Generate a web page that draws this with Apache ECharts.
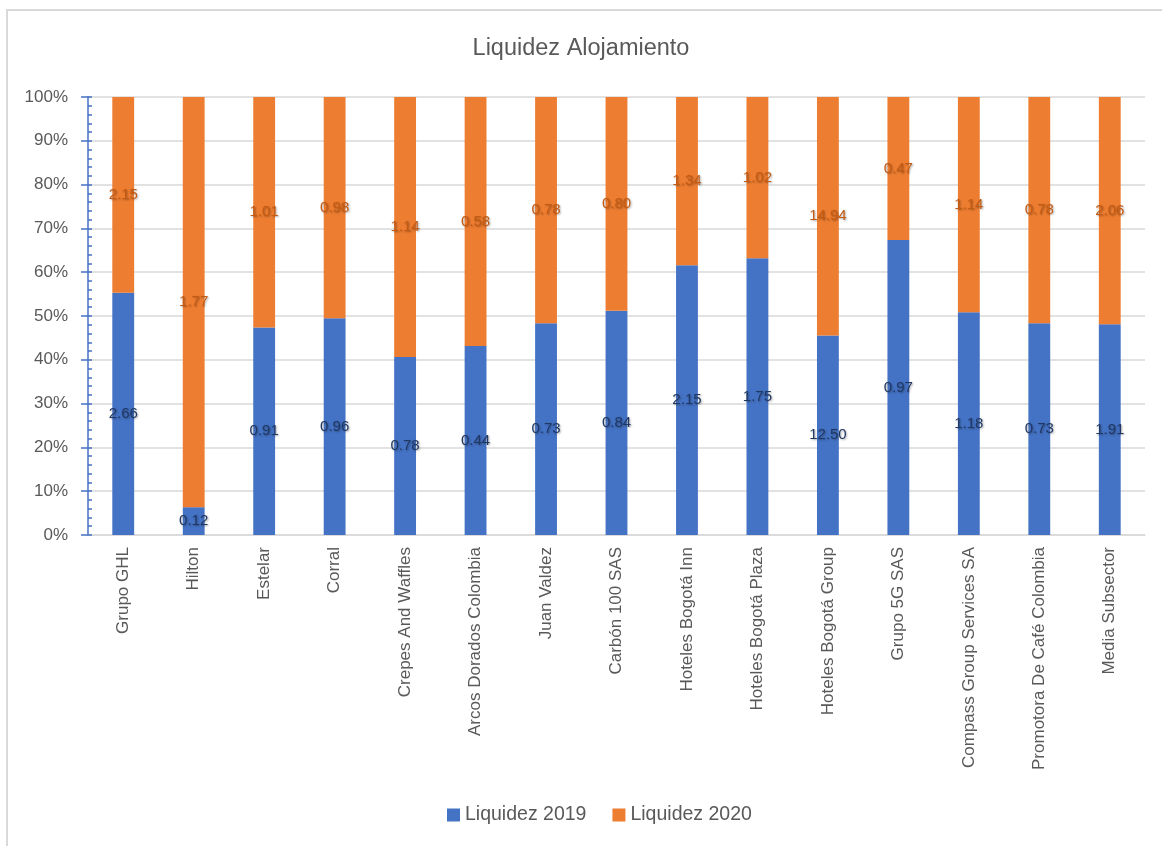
<!DOCTYPE html>
<html>
<head>
<meta charset="utf-8">
<title>Liquidez Alojamiento</title>
<script src="https://cdn.jsdelivr.net/npm/echarts@6/dist/echarts.min.js"></script>
<style>
    html, body {margin: 0; padding: 0; background: #fff;}
    #main {width: 1162px; height: 846px;}
</style>
</head>
<body>
<div id="main"></div>
<script>
// categorias (empresas)
var empresas = ['Grupo GHL', 'Hilton', 'Estelar', 'Corral', 'Crepes And Waffles',
    'Arcos Dorados Colombia', 'Juan Valdez', 'Carbón 100 SAS', 'Hoteles Bogotá Inn',
    'Hoteles Bogotá Plaza', 'Hoteles Bogotá Group', 'Grupo 5G SAS',
    'Compass Group Services SA', 'Promotora De Café Colombia', 'Media Subsector'];
var liquidez2019 = [2.66, 0.12, 0.91, 0.96, 0.78, 0.44, 0.73, 0.84, 2.15, 1.75, 12.50, 0.97, 1.18, 0.73, 1.91];
var liquidez2020 = [2.15, 1.77, 1.01, 0.98, 1.14, 0.58, 0.78, 0.80, 1.34, 1.02, 14.94, 0.47, 1.14, 0.78, 2.06];
var yTicks = [0, 10, 20, 30, 40, 50, 60, 70, 80, 90, 100];

// porcentaje de cada año dentro de la barra (100% apilado)
function pct(a, b) {
    return a.map(function (v, i) { return v / (v + b[i]) * 100; });
}
var pct2019 = pct(liquidez2019, liquidez2020);
var pct2020 = pct(liquidez2020, liquidez2019);

var gris = '#595959';
var myChart = echarts.init(document.getElementById('main'));

function etiqueta(color, valores) {
    return {
        show: true,
        position: 'inside',
        color: color,
        fontFamily: 'Liberation Sans',
        fontSize: 15,
        textShadowColor: 'rgba(0,0,0,0.35)',
        textShadowBlur: 2,
        textShadowOffsetX: 1,
        textShadowOffsetY: 1,
        formatter: function (p) { return valores[p.dataIndex].toFixed(2); }
    };
}

myChart.setOption({
    animation: false,
    textStyle: {fontFamily: 'Liberation Sans'},
    title: {
        text: 'Liquidez Alojamiento',
        left: 'center',
        top: 32,
        textStyle: {color: gris, fontSize: 23.5, fontWeight: 'normal', fontFamily: 'Liberation Sans'}
    },
    graphic: [{
        type: 'rect',
        shape: {x: 7, y: 10, width: 1200, height: 900},
        style: {fill: 'none', stroke: '#d9d9d9', lineWidth: 2},
        silent: true
    }],
    legend: {
        bottom: 16,
        left: 442,
        itemWidth: 13,
        itemHeight: 13,
        itemGap: 26,
        icon: 'rect',
        textStyle: {color: gris, fontSize: 19.5, fontFamily: 'Liberation Sans'},
        data: ['Liquidez 2019', 'Liquidez 2020']
    },
    grid: {left: 88, right: 17, top: 97, bottom: 311, containLabel: false},
    xAxis: {
        type: 'category',
        data: empresas,
        axisLine: {lineStyle: {color: '#d9d9d9', width: 1.5}},
        axisTick: {show: false},
        axisLabel: {rotate: 90, color: gris, fontSize: 17, margin: 12, interval: 0}
    },
    yAxis: [{
        type: 'value',
        min: yTicks[0],
        max: yTicks[yTicks.length - 1],
        interval: 10,
        axisLine: {show: true, lineStyle: {color: '#4472c4', width: 1.5}},
        axisTick: {show: true, inside: true, length: 4, lineStyle: {color: '#4472c4', width: 1.5}},
        minorTick: {show: true, splitNumber: 5, length: 4, lineStyle: {color: '#4472c4', width: 1.5}},
        splitLine: {lineStyle: {color: '#d9d9d9', width: 1.5}},
        axisLabel: {color: gris, fontSize: 17, margin: 20, formatter: '{value}%'}
    }, {
        type: 'value',
        position: 'left',
        min: yTicks[0],
        max: yTicks[yTicks.length - 1],
        interval: 10,
        axisLine: {show: false},
        axisTick: {show: true, inside: false, length: 7, lineStyle: {color: '#4472c4', width: 1.5}},
        splitLine: {show: false},
        axisLabel: {show: false}
    }],
    series: [{
        name: 'Liquidez 2019',
        type: 'bar',
        stack: 'total',
        barWidth: '31%',
        data: pct2019,
        itemStyle: {color: '#4472c4'},
        label: etiqueta('#203864', liquidez2019)
    }, {
        name: 'Liquidez 2020',
        type: 'bar',
        stack: 'total',
        barWidth: '31%',
        data: pct2020,
        itemStyle: {color: '#ed7d31'},
        label: etiqueta('#c55a11', liquidez2020)
    }]
});
</script>
</body>
</html>
